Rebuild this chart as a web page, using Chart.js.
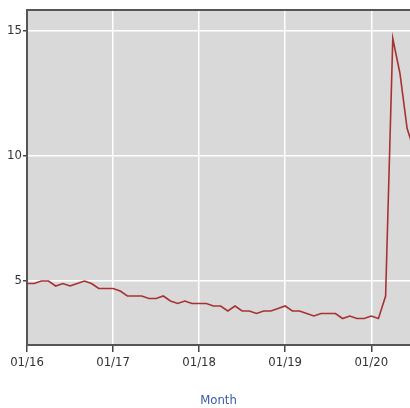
<!DOCTYPE html>
<html>
<head>
<meta charset="utf-8">
<script src="https://cdn.jsdelivr.net/npm/chart.js@4"></script>
<style>
  html, body { margin: 0; padding: 0; background: #fff; overflow: hidden; }
  #wrap { width: 410px; height: 408px; }
</style>
</head>
<body>
<div id="wrap"><canvas id="myChart"></canvas></div>
<script>
// monthly rate, starting 01/2016
const startYear = 2016;
const rate2016 = [4.9, 4.9, 5.0, 5.0, 4.8, 4.9, 4.8, 4.9, 5.0, 4.9, 4.7, 4.7];
const rate2017 = [4.7, 4.6, 4.4, 4.4, 4.4, 4.3, 4.3, 4.4, 4.2, 4.1, 4.2, 4.1];
const rate2018 = [4.1, 4.1, 4.0, 4.0, 3.8, 4.0, 3.8, 3.8, 3.7, 3.8, 3.8, 3.9];
const rate2019 = [4.0, 3.8, 3.8, 3.7, 3.6, 3.7, 3.7, 3.7, 3.5, 3.6, 3.5, 3.5];
const rate2020 = [3.6, 3.5, 4.4, 14.7, 13.3, 11.1, 10.2];

const xTickMonths = [0, 12, 24, 36, 48];
const xTickLabels = ['01/16', '01/17', '01/18', '01/19', '01/20'];
const yTicks = [5, 10, 15];

let allRates = rate2016.concat(rate2017, rate2018, rate2019, rate2020);
let dataPoints = [];
for (i = 0; i < allRates.length; i++) {
    dataPoints.push({ x: i, y: allRates[i] });
}

// grey plot background + dark frame on top / left
const plotFrame = {
    id: 'plotFrame',
    beforeDraw(chart) {
        const a = chart.chartArea;
        const ctx = chart.ctx;
        ctx.save();
        ctx.fillStyle = '#d9d9d9';
        ctx.fillRect(a.left, a.top, a.right - a.left, a.bottom - a.top);
        ctx.restore();
    },
    afterDatasetsDraw(chart) {
        const a = chart.chartArea;
        const ctx = chart.ctx;
        ctx.save();
        ctx.strokeStyle = '#555';
        ctx.lineWidth = 2;
        ctx.beginPath();
        ctx.moveTo(a.left, a.bottom);
        ctx.lineTo(a.left, a.top);
        ctx.lineTo(a.right, a.top);
        ctx.stroke();
        ctx.restore();
    }
};

const tickFont = { family: 'DejaVu Sans Condensed', size: 13 };

new Chart(document.getElementById('myChart'), {
    type: 'line',
    data: {
        datasets: [{
            data: dataPoints,
            borderColor: '#a83232',
            borderWidth: 1.6,
            pointRadius: 0,
            tension: 0,
            fill: false
        }]
    },
    options: {
        responsive: true,
        maintainAspectRatio: false,
        animation: false,
        layout: { padding: { top: 10, right: 0, left: 0, bottom: 0 } },
        plugins: {
            legend: { display: false },
            tooltip: { enabled: false }
        },
        scales: {
            x: {
                type: 'linear',
                min: 0,
                max: 53.4,
                afterBuildTicks: function (axis) {
                    axis.ticks = xTickMonths.map(function (v) { return { value: v }; });
                },
                afterFit: function (axis) { axis.height = 63; },
                ticks: {
                    autoSkip: false,
                    maxRotation: 0,
                    color: '#333',
                    font: tickFont,
                    padding: 3,
                    callback: function (value) {
                        return xTickLabels[xTickMonths.indexOf(value)];
                    }
                },
                grid: {
                    color: '#ffffff',
                    lineWidth: 1.5,
                    tickColor: '#444',
                    tickLength: 7
                },
                border: { display: true, color: '#555', width: 2 },
                title: {
                    display: true,
                    text: 'Month',
                    color: '#3a5aa8',
                    font: { family: 'DejaVu Sans Condensed', size: 13 },
                    padding: { top: 0, bottom: 0 }
                }
            },
            y: {
                min: 2.44,
                max: 15.84,
                afterBuildTicks: function (axis) {
                    axis.ticks = yTicks.map(function (v) { return { value: v }; });
                },
                afterFit: function (axis) { axis.width = 27; },
                ticks: {
                    color: '#333',
                    font: tickFont,
                    padding: 1
                },
                grid: {
                    color: '#ffffff',
                    lineWidth: 1.5,
                    tickColor: '#444',
                    tickLength: 4
                },
                border: { display: true, color: '#555', width: 2 }
            }
        }
    },
    plugins: [plotFrame]
});
</script>
</body>
</html>
